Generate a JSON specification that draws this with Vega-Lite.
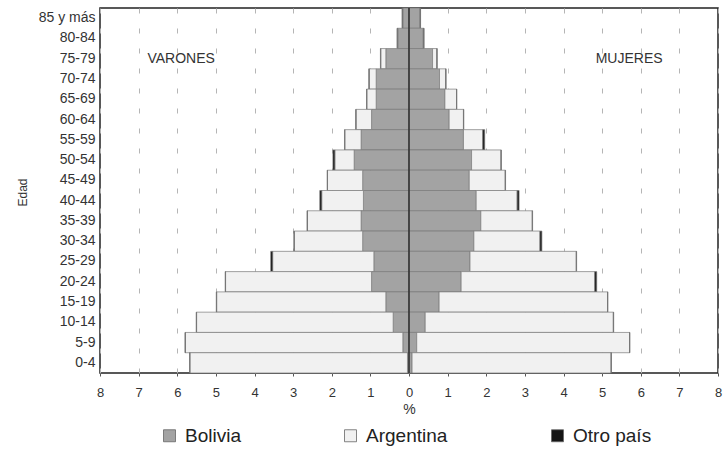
{
  "$schema": "https://vega.github.io/schema/vega-lite/v6.json",
  "autosize": {"type": "none"},
  "padding": {"left": 100, "top": 8, "right": 9, "bottom": 76},
  "width": 618,
  "height": 365,
  "config": {
    "font": "Liberation Sans",
    "view": {"stroke": "#222222", "strokeWidth": 1.5},
    "background": "#ffffff",
    "axisX": {
      "titleFontSize": 14,
      "titleFontWeight": "normal",
      "titleColor": "#333333",
      "titlePadding": 3,
      "labelOverlap": false,
      "labelFontSize": 13,
      "labelColor": "#333333",
      "labelPadding": 10,
      "labelFlush": false,
      "tickSize": 3,
      "tickColor": "#555555",
      "domain": false,
      "grid": true,
      "gridColor": "#b5b5b5",
      "gridDash": [5, 15],
      "gridWidth": 1
    }
  },
  "datasets": {
    "piramide": [
      {"edad":"85 y más","sexo":"Varones","pais":"Bolivia","valor":-0.16},
      {"edad":"85 y más","sexo":"Varones","pais":"Argentina","valor":-0.01},
      {"edad":"85 y más","sexo":"Varones","pais":"Otro país","valor":-0.01},
      {"edad":"80-84","sexo":"Varones","pais":"Bolivia","valor":-0.28},
      {"edad":"80-84","sexo":"Varones","pais":"Argentina","valor":-0.02},
      {"edad":"80-84","sexo":"Varones","pais":"Otro país","valor":-0.01},
      {"edad":"75-79","sexo":"Varones","pais":"Bolivia","valor":-0.60},
      {"edad":"75-79","sexo":"Varones","pais":"Argentina","valor":-0.13},
      {"edad":"75-79","sexo":"Varones","pais":"Otro país","valor":-0.01},
      {"edad":"70-74","sexo":"Varones","pais":"Bolivia","valor":-0.85},
      {"edad":"70-74","sexo":"Varones","pais":"Argentina","valor":-0.18},
      {"edad":"70-74","sexo":"Varones","pais":"Otro país","valor":-0.01},
      {"edad":"65-69","sexo":"Varones","pais":"Bolivia","valor":-0.85},
      {"edad":"65-69","sexo":"Varones","pais":"Argentina","valor":-0.24},
      {"edad":"65-69","sexo":"Varones","pais":"Otro país","valor":-0.01},
      {"edad":"60-64","sexo":"Varones","pais":"Bolivia","valor":-0.97},
      {"edad":"60-64","sexo":"Varones","pais":"Argentina","valor":-0.40},
      {"edad":"60-64","sexo":"Varones","pais":"Otro país","valor":-0.01},
      {"edad":"55-59","sexo":"Varones","pais":"Bolivia","valor":-1.24},
      {"edad":"55-59","sexo":"Varones","pais":"Argentina","valor":-0.42},
      {"edad":"55-59","sexo":"Varones","pais":"Otro país","valor":-0.01},
      {"edad":"50-54","sexo":"Varones","pais":"Bolivia","valor":-1.42},
      {"edad":"50-54","sexo":"Varones","pais":"Argentina","valor":-0.50},
      {"edad":"50-54","sexo":"Varones","pais":"Otro país","valor":-0.05},
      {"edad":"45-49","sexo":"Varones","pais":"Bolivia","valor":-1.20},
      {"edad":"45-49","sexo":"Varones","pais":"Argentina","valor":-0.91},
      {"edad":"45-49","sexo":"Varones","pais":"Otro país","valor":-0.01},
      {"edad":"40-44","sexo":"Varones","pais":"Bolivia","valor":-1.18},
      {"edad":"40-44","sexo":"Varones","pais":"Argentina","valor":-1.08},
      {"edad":"40-44","sexo":"Varones","pais":"Otro país","valor":-0.05},
      {"edad":"35-39","sexo":"Varones","pais":"Bolivia","valor":-1.24},
      {"edad":"35-39","sexo":"Varones","pais":"Argentina","valor":-1.39},
      {"edad":"35-39","sexo":"Varones","pais":"Otro país","valor":-0.01},
      {"edad":"30-34","sexo":"Varones","pais":"Bolivia","valor":-1.20},
      {"edad":"30-34","sexo":"Varones","pais":"Argentina","valor":-1.77},
      {"edad":"30-34","sexo":"Varones","pais":"Otro país","valor":-0.01},
      {"edad":"25-29","sexo":"Varones","pais":"Bolivia","valor":-0.91},
      {"edad":"25-29","sexo":"Varones","pais":"Argentina","valor":-2.62},
      {"edad":"25-29","sexo":"Varones","pais":"Otro país","valor":-0.05},
      {"edad":"20-24","sexo":"Varones","pais":"Bolivia","valor":-0.97},
      {"edad":"20-24","sexo":"Varones","pais":"Argentina","valor":-3.78},
      {"edad":"20-24","sexo":"Varones","pais":"Otro país","valor":-0.01},
      {"edad":"15-19","sexo":"Varones","pais":"Bolivia","valor":-0.60},
      {"edad":"15-19","sexo":"Varones","pais":"Argentina","valor":-4.38},
      {"edad":"15-19","sexo":"Varones","pais":"Otro país","valor":-0.01},
      {"edad":"10-14","sexo":"Varones","pais":"Bolivia","valor":-0.41},
      {"edad":"10-14","sexo":"Varones","pais":"Argentina","valor":-5.09},
      {"edad":"10-14","sexo":"Varones","pais":"Otro país","valor":-0.01},
      {"edad":"5-9","sexo":"Varones","pais":"Bolivia","valor":-0.16},
      {"edad":"5-9","sexo":"Varones","pais":"Argentina","valor":-5.63},
      {"edad":"5-9","sexo":"Varones","pais":"Otro país","valor":-0.01},
      {"edad":"0-4","sexo":"Varones","pais":"Bolivia","valor":-0.04},
      {"edad":"0-4","sexo":"Varones","pais":"Argentina","valor":-5.63},
      {"edad":"0-4","sexo":"Varones","pais":"Otro país","valor":-0.01},
      {"edad":"85 y más","sexo":"Mujeres","pais":"Bolivia","valor":0.28},
      {"edad":"85 y más","sexo":"Mujeres","pais":"Argentina","valor":0.01},
      {"edad":"85 y más","sexo":"Mujeres","pais":"Otro país","valor":0.01},
      {"edad":"80-84","sexo":"Mujeres","pais":"Bolivia","valor":0.37},
      {"edad":"80-84","sexo":"Mujeres","pais":"Argentina","valor":0.01},
      {"edad":"80-84","sexo":"Mujeres","pais":"Otro país","valor":0.01},
      {"edad":"75-79","sexo":"Mujeres","pais":"Bolivia","valor":0.61},
      {"edad":"75-79","sexo":"Mujeres","pais":"Argentina","valor":0.11},
      {"edad":"75-79","sexo":"Mujeres","pais":"Otro país","valor":0.01},
      {"edad":"70-74","sexo":"Mujeres","pais":"Bolivia","valor":0.79},
      {"edad":"70-74","sexo":"Mujeres","pais":"Argentina","valor":0.16},
      {"edad":"70-74","sexo":"Mujeres","pais":"Otro país","valor":0.01},
      {"edad":"65-69","sexo":"Mujeres","pais":"Bolivia","valor":0.93},
      {"edad":"65-69","sexo":"Mujeres","pais":"Argentina","valor":0.30},
      {"edad":"65-69","sexo":"Mujeres","pais":"Otro país","valor":0.01},
      {"edad":"60-64","sexo":"Mujeres","pais":"Bolivia","valor":1.04},
      {"edad":"60-64","sexo":"Mujeres","pais":"Argentina","valor":0.37},
      {"edad":"60-64","sexo":"Mujeres","pais":"Otro país","valor":0.01},
      {"edad":"55-59","sexo":"Mujeres","pais":"Bolivia","valor":1.41},
      {"edad":"55-59","sexo":"Mujeres","pais":"Argentina","valor":0.50},
      {"edad":"55-59","sexo":"Mujeres","pais":"Otro país","valor":0.05},
      {"edad":"50-54","sexo":"Mujeres","pais":"Bolivia","valor":1.62},
      {"edad":"50-54","sexo":"Mujeres","pais":"Argentina","valor":0.76},
      {"edad":"50-54","sexo":"Mujeres","pais":"Otro país","valor":0.01},
      {"edad":"45-49","sexo":"Mujeres","pais":"Bolivia","valor":1.56},
      {"edad":"45-49","sexo":"Mujeres","pais":"Argentina","valor":0.93},
      {"edad":"45-49","sexo":"Mujeres","pais":"Otro país","valor":0.01},
      {"edad":"40-44","sexo":"Mujeres","pais":"Bolivia","valor":1.74},
      {"edad":"40-44","sexo":"Mujeres","pais":"Argentina","valor":1.06},
      {"edad":"40-44","sexo":"Mujeres","pais":"Otro país","valor":0.05},
      {"edad":"35-39","sexo":"Mujeres","pais":"Bolivia","valor":1.86},
      {"edad":"35-39","sexo":"Mujeres","pais":"Argentina","valor":1.33},
      {"edad":"35-39","sexo":"Mujeres","pais":"Otro país","valor":0.01},
      {"edad":"30-34","sexo":"Mujeres","pais":"Bolivia","valor":1.68},
      {"edad":"30-34","sexo":"Mujeres","pais":"Argentina","valor":1.71},
      {"edad":"30-34","sexo":"Mujeres","pais":"Otro país","valor":0.05},
      {"edad":"25-29","sexo":"Mujeres","pais":"Bolivia","valor":1.58},
      {"edad":"25-29","sexo":"Mujeres","pais":"Argentina","valor":2.75},
      {"edad":"25-29","sexo":"Mujeres","pais":"Otro país","valor":0.01},
      {"edad":"20-24","sexo":"Mujeres","pais":"Bolivia","valor":1.35},
      {"edad":"20-24","sexo":"Mujeres","pais":"Argentina","valor":3.46},
      {"edad":"20-24","sexo":"Mujeres","pais":"Otro país","valor":0.05},
      {"edad":"15-19","sexo":"Mujeres","pais":"Bolivia","valor":0.78},
      {"edad":"15-19","sexo":"Mujeres","pais":"Argentina","valor":4.36},
      {"edad":"15-19","sexo":"Mujeres","pais":"Otro país","valor":0.01},
      {"edad":"10-14","sexo":"Mujeres","pais":"Bolivia","valor":0.42},
      {"edad":"10-14","sexo":"Mujeres","pais":"Argentina","valor":4.87},
      {"edad":"10-14","sexo":"Mujeres","pais":"Otro país","valor":0.01},
      {"edad":"5-9","sexo":"Mujeres","pais":"Bolivia","valor":0.20},
      {"edad":"5-9","sexo":"Mujeres","pais":"Argentina","valor":5.51},
      {"edad":"5-9","sexo":"Mujeres","pais":"Otro país","valor":0.01},
      {"edad":"0-4","sexo":"Mujeres","pais":"Bolivia","valor":0.08},
      {"edad":"0-4","sexo":"Mujeres","pais":"Argentina","valor":5.15},
      {"edad":"0-4","sexo":"Mujeres","pais":"Otro país","valor":0.01}
    ]
  },
  "layer": [
    {
      "data": {"name": "piramide"},
      "transform": [
        {"calculate": "indexof(['Bolivia','Argentina','Otro país'], datum.pais)", "as": "orden"}
      ],
      "mark": {"type": "bar", "stroke": "#7a7a7a", "strokeWidth": 0.7},
      "encoding": {
        "y": {
          "field": "edad",
          "type": "ordinal",
          "sort": ["85 y más","80-84","75-79","70-74","65-69","60-64","55-59","50-54","45-49","40-44","35-39","30-34","25-29","20-24","15-19","10-14","5-9","0-4"],
          "scale": {"paddingInner": 0, "paddingOuter": 0},
          "axis": {
            "title": "Edad",
            "titleFontSize": 12,
            "titleFontWeight": "normal",
            "titleColor": "#333333",
            "titleAngle": -90,
            "titleX": -78,
            "titleY": 184,
            "titleAlign": "center",
            "titleBaseline": "middle",
            "labelFontSize": 14,
            "labelColor": "#333333",
            "labelPadding": 5,
            "ticks": false,
            "domain": false,
            "grid": false
          }
        },
        "x": {
          "field": "valor",
          "type": "quantitative",
          "stack": "zero",
          "scale": {"domain": [-8, 8], "nice": false, "zero": false},
          "axis": {
            "title": "%",
            "values": [-8,-7,-6,-5,-4,-3,-2,-1,0,1,2,3,4,5,6,7,8],
            "tickCount": 40,
            "labelExpr": "format(abs(datum.value), 'd')"
          }
        },
        "color": {
          "field": "pais",
          "type": "nominal",
          "scale": {
            "domain": ["Bolivia", "Argentina", "Otro país"],
            "range": ["#a3a3a3", "#f1f1f1", "#151515"]
          },
          "legend": {
            "title": null,
            "orient": "none",
            "direction": "horizontal",
            "legendX": 60,
            "legendY": 418,
            "symbolType": "square",
            "symbolSize": 144,
            "symbolStrokeColor": "#666666",
            "symbolStrokeWidth": 0.8,
            "labelFontSize": 19,
            "labelColor": "#222222",
            "labelOffset": 6,
            "columnPadding": 100,
            "padding": 0
          }
        },
        "order": {"field": "orden", "type": "quantitative"}
      }
    },
    {
      "data": {"values": [{}]},
      "mark": {"type": "rule", "color": "#333333", "strokeWidth": 1.6},
      "encoding": {
        "x": {
          "datum": 0,
          "type": "quantitative",
          "axis": {
            "title": "%",
            "values": [-8,-7,-6,-5,-4,-3,-2,-1,0,1,2,3,4,5,6,7,8],
            "tickCount": 40,
            "labelExpr": "format(abs(datum.value), 'd')"
          }
        }
      }
    },
    {
      "data": {"values": [{}]},
      "mark": {"type": "text", "text": "VARONES", "fontSize": 14, "color": "#333333", "align": "center", "baseline": "middle"},
      "encoding": {
        "x": {
          "datum": -5.9,
          "type": "quantitative",
          "axis": {
            "title": "%",
            "values": [-8,-7,-6,-5,-4,-3,-2,-1,0,1,2,3,4,5,6,7,8],
            "tickCount": 40,
            "labelExpr": "format(abs(datum.value), 'd')"
          }
        },
        "y": {"datum": "75-79", "bandPosition": 0.5}
      }
    },
    {
      "data": {"values": [{}]},
      "mark": {"type": "text", "text": "MUJERES", "fontSize": 14, "color": "#333333", "align": "center", "baseline": "middle"},
      "encoding": {
        "x": {
          "datum": 5.7,
          "type": "quantitative",
          "axis": {
            "title": "%",
            "values": [-8,-7,-6,-5,-4,-3,-2,-1,0,1,2,3,4,5,6,7,8],
            "tickCount": 40,
            "labelExpr": "format(abs(datum.value), 'd')"
          }
        },
        "y": {"datum": "75-79", "bandPosition": 0.5}
      }
    }
  ]
}
